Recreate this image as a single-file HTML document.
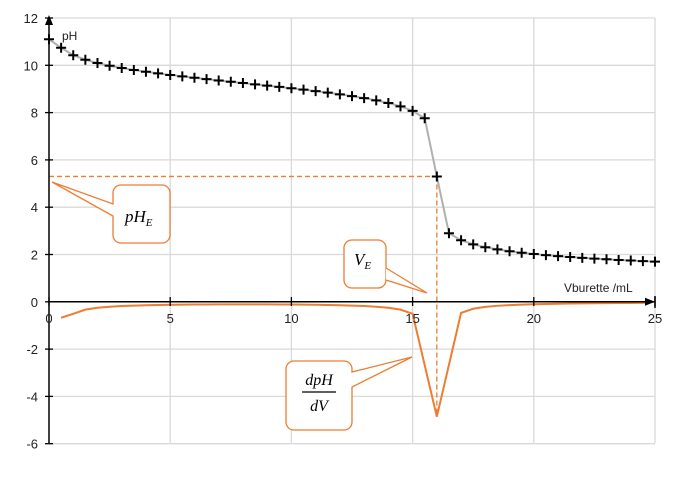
<!DOCTYPE html>
<html><head><meta charset="utf-8"><style>
html,body{margin:0;padding:0;background:#fff}
svg{display:block;font-family:"Liberation Sans",Arial,sans-serif}
</style></head><body>
<svg id="s" width="680" height="490" viewBox="0 0 680 490" xmlns="http://www.w3.org/2000/svg"></svg>
<script>
const s=document.getElementById('s');
const X=v=>49+v*24.24, Y=p=>301.8-p*23.65;
let h='';
// grid
for(let v=5;v<=25;v+=5)h+=`<line x1="${X(v)}" y1="18" x2="${X(v)}" y2="443" stroke="#d9d9d9" stroke-width="1.3"/>`;
for(let p=-6;p<=12;p+=2)if(p!==0)h+=`<line x1="49" y1="${Y(p)}" x2="655" y2="${Y(p)}" stroke="#d9d9d9" stroke-width="1.3"/>`;
// pH data
function pH(V){if(V<=0)return 11.1;if(V<16)return 9.25+Math.log10((16-V)/V);if(V==16)return 5.3;return -Math.log10(0.162*(V-16)/(V+48));}
const pts=[];for(let V=0;V<=25.001;V+=0.5)pts.push([V,pH(V)]);
h+=`<polyline fill="none" stroke="#b0b0b0" stroke-width="2" points="${pts.map(p=>X(p[0])+','+Y(p[1])).join(' ')}"/>`;
// derivative
const d=[];for(let i=1;i<pts.length-1;i++){const V=pts[i][0];if(V==15.5||V==16.5)continue;d.push([V,(pts[i+1][1]-pts[i-1][1])/1]);}
d.push([25,0]);
h+=`<polyline fill="none" stroke="#ed7d31" stroke-width="2" points="${d.map(p=>X(p[0])+','+Y(p[1])).join(' ')}"/>`;
// dashed
h+=`<line x1="49" y1="${Y(5.3)}" x2="${X(16)}" y2="${Y(5.3)}" stroke="#ed7d31" stroke-width="1.3" stroke-dasharray="5,3"/>`;
h+=`<line x1="${X(16)}" y1="${Y(5.3)}" x2="${X(16)}" y2="${Y(-4.85)}" stroke="#ed7d31" stroke-width="1.3" stroke-dasharray="5,3"/>`;
// pluses
for(const p of pts){const x=X(p[0]),y=Y(p[1]);h+=`<path d="M${x-5},${y}H${x+5}M${x},${y-5}V${y+5}" stroke="#000" stroke-width="2"/>`;}
// axes
h+=`<line x1="49" y1="443" x2="49" y2="22" stroke="#000" stroke-width="1.5"/><path d="M49,15 L45,25 L53,25Z"/>`;
h+=`<line x1="49" y1="301.8" x2="651" y2="301.8" stroke="#000" stroke-width="1.5"/><path d="M655,301.8 L645,297.8 L645,305.8Z"/><line x1="655" y1="296" x2="655" y2="308" stroke="#000" stroke-width="1.5"/>`;
for(let p=-6;p<=12;p+=2){h+=`<line x1="45" y1="${Y(p)}" x2="53" y2="${Y(p)}" stroke="#000" stroke-width="1.3"/><text x="38" y="${Y(p)+5}" font-size="13" text-anchor="end" fill="#222">${p}</text>`;}
for(let v=0;v<=25;v+=5){h+=`<line x1="${X(v)}" y1="297" x2="${X(v)}" y2="306" stroke="#000" stroke-width="1.3"/><text x="${X(v)}" y="323" font-size="13" text-anchor="middle" fill="#222">${v}</text>`;}
h+=`<text x="62" y="40" font-size="12" fill="#222">pH</text><text x="564" y="292" font-size="12" fill="#222">Vburette /mL</text>`;
// callouts
const st='fill="#fff" stroke="#ed7d31" stroke-width="1.3"';
h+=`<path d="M124,185 H162 a8,8 0 0 1 8,8 V235 a8,8 0 0 1 -8,8 H121 a8,8 0 0 1 -8,-8 V216 L52,182 L113,204 V193 a8,8 0 0 1 8,-8Z" ${st}/>`;
h+=`<text x="125" y="222" font-size="17" font-style="italic" font-family="Liberation Serif,serif">pH<tspan font-size="11" dy="4">E</tspan></text>`;
h+=`<path d="M352,240 H378 a8,8 0 0 1 8,8 V280 a8,8 0 0 1 -8,8 H352 a8,8 0 0 1 -8,-8 V248 a8,8 0 0 1 8,-8Z" ${st}/><path d="M386,268 L427,293 L386,280" ${st}/>`;
h+=`<text x="354" y="265" font-size="17" font-style="italic" font-family="Liberation Serif,serif">V<tspan font-size="11" dy="4">E</tspan></text>`;
h+=`<path d="M294,361 H344 a8,8 0 0 1 8,8 V372 L412,357 L352,387 V422 a8,8 0 0 1 -8,8 H294 a8,8 0 0 1 -8,-8 V369 a8,8 0 0 1 8,-8Z" ${st}/>`;
h+=`<text x="319" y="385" font-size="16" font-style="italic" text-anchor="middle" font-family="Liberation Serif,serif">dpH</text><line x1="302" y1="392" x2="336" y2="392" stroke="#000" stroke-width="1.2"/><text x="319" y="411" font-size="16" font-style="italic" text-anchor="middle" font-family="Liberation Serif,serif">dV</text>`;
s.innerHTML=h;
</script>
</body></html>
